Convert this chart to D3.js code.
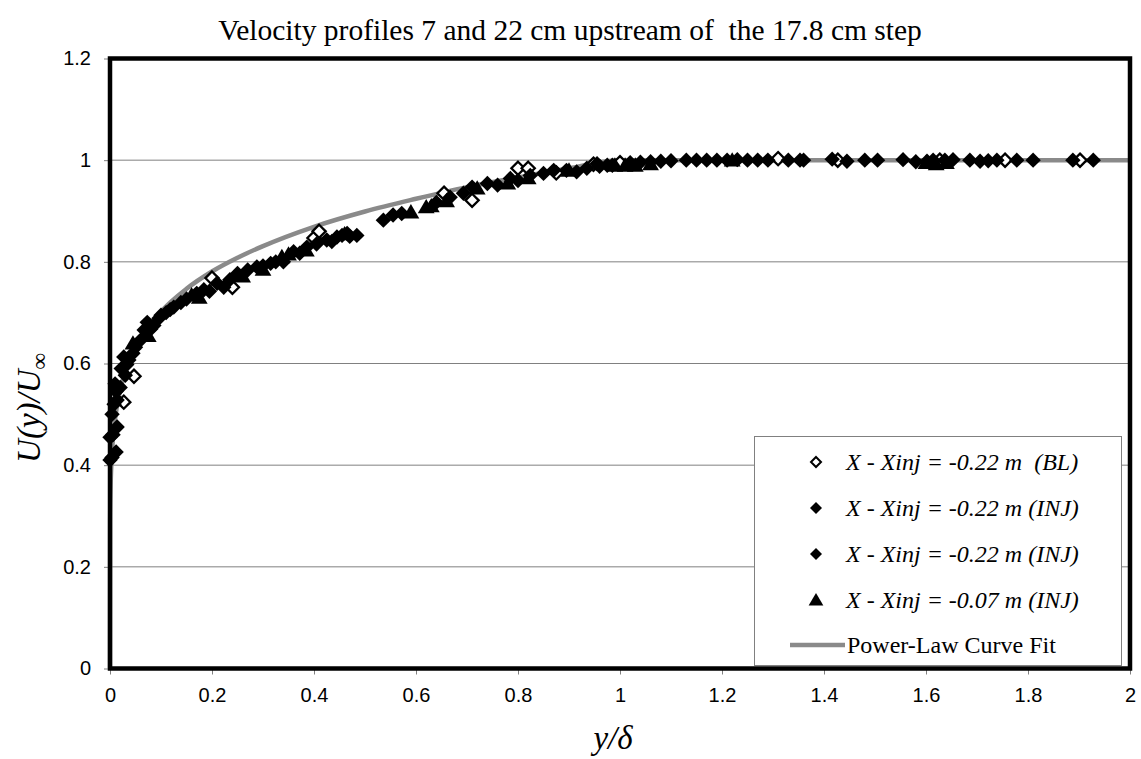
<!DOCTYPE html>
<html>
<head>
<meta charset="utf-8">
<script src="https://cdn.jsdelivr.net/npm/d3@7"></script>
<style>
  html, body { margin: 0; padding: 0; background: #fff; }
  svg { display: block; }
</style>
</head>
<body>
<svg id="chart" width="1141" height="759"></svg>
<script>
// ---- data: [y/delta, U(y)/U_inf] ----
const blPoints = [
  [0.027, 0.524], [0.047, 0.575], [0.20, 0.768], [0.24, 0.750],
  [0.400, 0.847], [0.410, 0.860], [0.655, 0.935], [0.710, 0.921],
  [0.800, 0.984], [0.820, 0.984], [0.875, 0.975], [0.948, 0.992],
  [1.000, 0.995], [1.310, 1.003], [1.427, 1.000], [1.627, 1.000],
  [1.755, 1.000], [1.902, 1.000]
];

const injPointsA = [
  [0.000, 0.410], [0.000, 0.455], [0.008, 0.520], [0.020, 0.553],
  [0.027, 0.613], [0.050, 0.632], [0.067, 0.666], [0.086, 0.675],
  [0.110, 0.700], [0.139, 0.720], [0.184, 0.745], [0.223, 0.750],
  [0.270, 0.784], [0.315, 0.797], [0.360, 0.820], [0.386, 0.829],
  [0.445, 0.849], [0.484, 0.852], [0.555, 0.892], [0.640, 0.917],
  [0.693, 0.935], [0.740, 0.954], [0.785, 0.964], [0.824, 0.970],
  [0.870, 0.980], [0.915, 0.977], [0.955, 0.993], [0.960, 0.988],
  [1.020, 0.995], [1.060, 0.997], [1.100, 0.999], [1.150, 1.000],
  [1.190, 1.000], [1.230, 1.001], [1.270, 1.000], [1.330, 1.000],
  [1.360, 1.000], [1.445, 0.998], [1.505, 1.000], [1.580, 0.997],
  [1.614, 1.000], [1.653, 1.001], [1.706, 0.998], [1.739, 1.000],
  [1.810, 1.000], [1.928, 1.000], [0.004, 0.500], [0.022, 0.590],
  [0.045, 0.620], [0.100, 0.695], [0.150, 0.727], [0.195, 0.742],
  [0.235, 0.765], [0.325, 0.800], [0.435, 0.840], [0.470, 0.850]
];

const injPointsB = [
  [0.004, 0.415], [0.012, 0.426], [0.006, 0.460], [0.014, 0.475],
  [0.014, 0.528], [0.012, 0.545], [0.030, 0.577], [0.037, 0.607],
  [0.060, 0.646], [0.073, 0.681], [0.096, 0.689], [0.125, 0.711],
  [0.170, 0.738], [0.210, 0.758], [0.250, 0.777], [0.288, 0.790],
  [0.340, 0.800], [0.372, 0.817], [0.425, 0.843], [0.465, 0.856],
  [0.536, 0.882], [0.572, 0.895], [0.667, 0.927], [0.710, 0.947],
  [0.760, 0.951], [0.800, 0.960], [0.850, 0.974], [0.895, 0.980],
  [0.935, 0.984], [0.975, 0.990], [0.985, 0.990], [1.040, 0.996],
  [1.080, 0.998], [1.130, 1.000], [1.170, 1.000], [1.210, 1.000],
  [1.250, 1.000], [1.290, 1.000], [1.353, 1.000], [1.416, 1.002],
  [1.480, 1.000], [1.555, 1.001], [1.602, 0.998], [1.637, 1.000],
  [1.686, 1.000], [1.722, 0.999], [1.778, 1.000], [1.888, 1.000],
  [0.010, 0.560], [0.033, 0.598], [0.080, 0.668], [0.118, 0.706],
  [0.300, 0.792], [0.405, 0.835], [0.455, 0.852]
];

const tri07Points = [
  [0.045, 0.640], [0.075, 0.655], [0.160, 0.735], [0.175, 0.730],
  [0.260, 0.772], [0.300, 0.785], [0.337, 0.810], [0.350, 0.815],
  [0.385, 0.823], [0.460, 0.855], [0.590, 0.898], [0.620, 0.908],
  [0.630, 0.910], [0.660, 0.920], [0.720, 0.945], [0.780, 0.955],
  [0.820, 0.965], [0.900, 0.980], [0.990, 0.990], [1.010, 0.990],
  [1.030, 0.990], [1.060, 0.993], [1.220, 1.000], [1.600, 0.995],
  [1.620, 0.993], [1.640, 0.995]
];

// power-law fit curve sampled along y/delta
const fitX = [0, 0.0003, 0.001, 0.003, 0.006, 0.01, 0.02, 0.03, 0.05, 0.075,
              0.1, 0.15, 0.2, 0.25, 0.3, 0.4, 0.5, 0.6, 0.7, 0.8, 0.9, 1.0, 2.0];
const fitY = [0, 0.287, 0.346, 0.409, 0.455, 0.492, 0.548, 0.583, 0.631, 0.671,
              0.702, 0.747, 0.781, 0.808, 0.831, 0.869, 0.899, 0.924, 0.947, 0.966, 0.984, 1.0, 1.0];

const xTicks = [0, 0.2, 0.4, 0.6, 0.8, 1, 1.2, 1.4, 1.6, 1.8, 2];
const yTicks = [0, 0.2, 0.4, 0.6, 0.8, 1, 1.2];

const titleText = "Velocity profiles 7 and 22 cm upstream of  the 17.8 cm step";
const legendLabels = [
  "X - Xinj = -0.22 m  (BL)",
  "X - Xinj = -0.22 m (INJ)",
  "X - Xinj = -0.22 m (INJ)",
  "X - Xinj = -0.07 m (INJ)",
  "Power-Law Curve Fit"
];

// ---- layout ----
const plot = { left: 110, right: 1130, top: 58.5, bottom: 668.5 };
const svg = d3.select("#chart");
const sans = "'Liberation Sans', Arial, sans-serif";
const serif = "'Liberation Serif', 'Times New Roman', serif";

const x = d3.scaleLinear().domain([0, 2]).range([plot.left, plot.right]);
const y = d3.scaleLinear().domain([0, 1.2]).range([plot.bottom, plot.top]);

svg.append("rect").attr("width", 1141).attr("height", 759).attr("fill", "#fff");

// horizontal gridlines
svg.append("g").selectAll("line")
  .data(yTicks.filter(t => t > 0 && t < 1.2))
  .join("line")
  .attr("x1", plot.left).attr("x2", plot.right)
  .attr("y1", d => y(d)).attr("y2", d => y(d))
  .attr("stroke", "#808080").attr("stroke-width", 1);

// axes (ticks + labels)
const fmt = d => String(+d.toFixed(1));
const yAxis = d3.axisLeft(y).tickValues(yTicks).tickSize(6).tickPadding(13).tickFormat(fmt);
const gy = svg.append("g").attr("transform", `translate(${plot.left},0)`).call(yAxis);
gy.select(".domain").remove();
gy.selectAll(".tick line").attr("stroke", "#808080");
gy.selectAll(".tick text").attr("font-family", sans).attr("font-size", 20).attr("fill", "#000");

const xAxis = d3.axisBottom(x).tickValues(xTicks).tickSize(6).tickPadding(13).tickFormat(fmt);
const gx = svg.append("g").attr("transform", `translate(0,${plot.bottom})`).call(xAxis);
gx.select(".domain").remove();
gx.selectAll(".tick line").attr("stroke", "#808080");
gx.selectAll(".tick text").attr("font-family", sans).attr("font-size", 20).attr("fill", "#000");

// power-law curve
const fitData = fitX.map((v, i) => [v, fitY[i]]);
svg.append("path")
  .datum(fitData)
  .attr("fill", "none")
  .attr("stroke", "#8a8a8a")
  .attr("stroke-width", 4.5)
  .attr("d", d3.line().x(d => x(d[0])).y(d => y(d[1])).curve(d3.curveMonotoneX));

// marker shapes
const diamond = r => `M0,${-r}L${r},0L0,${r}L${-r},0Z`;
const triangle = r => `M0,${-r}L${r * 1.05},${r * 0.8}L${-r * 1.05},${r * 0.8}Z`;

function drawSeries(data, path, fill, stroke, sw) {
  svg.append("g").selectAll("path")
    .data(data)
    .join("path")
    .attr("transform", d => `translate(${x(d[0])},${y(d[1])})`)
    .attr("d", path)
    .attr("fill", fill)
    .attr("stroke", stroke)
    .attr("stroke-width", sw)
    .attr("stroke-linejoin", "miter");
}

drawSeries(blPoints, diamond(6.6), "#fff", "#000", 2.3);
drawSeries(injPointsA, diamond(7.7), "#000", "none", 0);
drawSeries(injPointsB, diamond(7.7), "#000", "none", 0);
drawSeries(tri07Points, triangle(8), "#000", "none", 0);

// plot area border
svg.append("rect")
  .attr("x", plot.left).attr("y", plot.top)
  .attr("width", plot.right - plot.left).attr("height", plot.bottom - plot.top)
  .attr("fill", "none").attr("stroke", "#000").attr("stroke-width", 4.5);

// legend
const lg = svg.append("g");
lg.append("rect")
  .attr("x", 754.5).attr("y", 436.5).attr("width", 367).attr("height", 229)
  .attr("fill", "#fff").attr("stroke", "#808080").attr("stroke-width", 1);

const rowY = [462, 508, 554, 600, 645];
const markerX = 816, textX = 846;
lg.append("path").attr("transform", `translate(${markerX},${rowY[0]})`)
  .attr("d", diamond(5)).attr("fill", "#fff").attr("stroke", "#000").attr("stroke-width", 2);
lg.append("path").attr("transform", `translate(${markerX},${rowY[1]})`)
  .attr("d", diamond(6)).attr("fill", "#000");
lg.append("path").attr("transform", `translate(${markerX},${rowY[2]})`)
  .attr("d", diamond(6)).attr("fill", "#000");
lg.append("path").attr("transform", `translate(${markerX},${rowY[3]})`)
  .attr("d", triangle(7)).attr("fill", "#000");
lg.append("line")
  .attr("x1", 790).attr("x2", 845).attr("y1", rowY[4]).attr("y2", rowY[4])
  .attr("stroke", "#8a8a8a").attr("stroke-width", 4.5);

lg.selectAll("text.entry")
  .data(legendLabels)
  .join("text")
  .attr("class", "entry")
  .attr("x", (d, i) => i === 4 ? 847 : textX)
  .attr("y", (d, i) => rowY[i])
  .attr("dy", "0.33em")
  .attr("font-family", serif)
  .attr("font-size", 24)
  .attr("font-style", (d, i) => i === 4 ? "normal" : "italic")
  .style("white-space", "pre")
  .text(d => d);

// title
svg.append("text")
  .attr("x", 570).attr("y", 40)
  .attr("text-anchor", "middle")
  .attr("font-family", serif)
  .attr("font-size", 29.5)
  .style("white-space", "pre")
  .text(titleText);

// axis titles
const yl = svg.append("text")
  .attr("transform", "translate(40,408) rotate(-90)")
  .attr("text-anchor", "middle")
  .attr("font-family", serif)
  .attr("font-size", 33)
  .attr("font-style", "italic");
yl.append("tspan").text("U(y)/U");
yl.append("tspan").attr("dy", 7).attr("font-size", 23).text("∞");

svg.append("text")
  .attr("x", 613).attr("y", 749)
  .attr("text-anchor", "middle")
  .attr("font-family", serif)
  .attr("font-size", 33)
  .attr("font-style", "italic")
  .text("y/δ");
</script>
</body>
</html>
